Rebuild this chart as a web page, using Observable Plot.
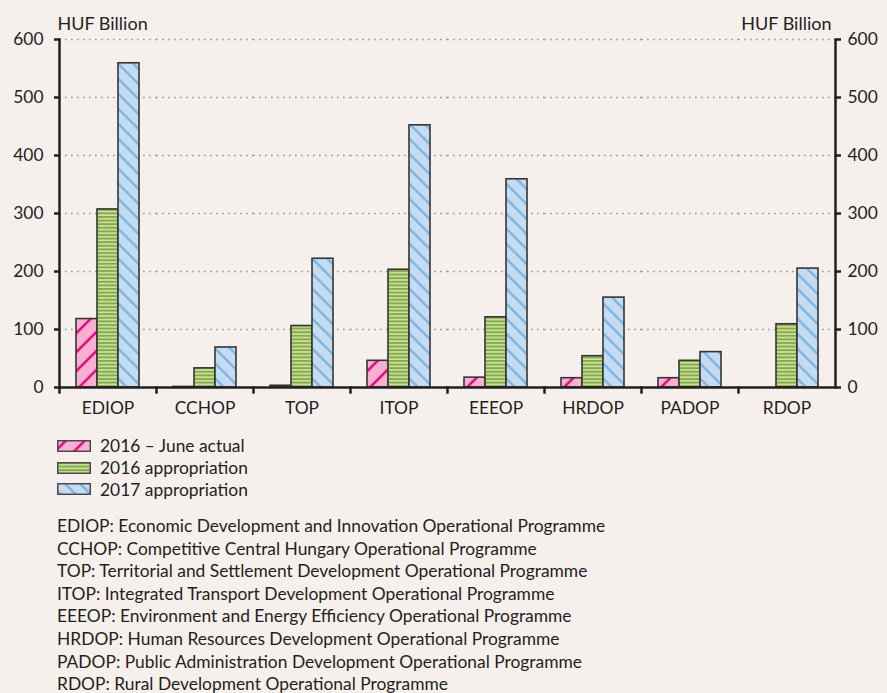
<!DOCTYPE html>
<html><head><meta charset="utf-8">
<script src="https://cdn.jsdelivr.net/npm/d3@7"></script>
<script src="https://cdn.jsdelivr.net/npm/@observablehq/plot@0.6"></script>
<style>
html,body{margin:0;padding:0;background:#f6f0ed;overflow:hidden;width:887px;height:693px;}
body{font-family:Lato,"Open Sans",sans-serif;color:#231f20;font-size:17.4px;}
#legend{margin-top:10px;}
.lrow{display:flex;align-items:center;height:21.7px;padding-left:57px;}
.lrow svg{margin-right:9px;display:block;}
#notes{margin-top:15px;padding-left:57px;line-height:22.6px;white-space:nowrap;}
</style></head><body>
<svg width="0" height="0" style="position:absolute">
<defs>
<pattern id="pat0" patternUnits="userSpaceOnUse" width="13.4" height="13.4" patternTransform="rotate(45)">
<rect width="13.4" height="13.4" fill="#f7b0d0"/>
<line x1="6.7" y1="0" x2="6.7" y2="13.4" stroke="#e3007b" stroke-width="2.4"/>
</pattern>
<pattern id="pat1" patternUnits="userSpaceOnUse" width="10" height="3.6">
<rect width="10" height="3.6" fill="#cfe2a8"/>
<rect width="10" height="2" fill="#84ac43"/>
</pattern>
<pattern id="pat2" patternUnits="userSpaceOnUse" width="10.6" height="10.6" patternTransform="rotate(-45)">
<rect width="10.6" height="10.6" fill="#c4dbf0"/>
<line x1="5.3" y1="0" x2="5.3" y2="10.6" stroke="#6aaee2" stroke-width="2"/>
</pattern>
</defs>
</svg>
<div id="chart"></div>
<div id="legend"></div>
<div id="notes"></div>
<script>
const categories = ["EDIOP","CCHOP","TOP","ITOP","EEEOP","HRDOP","PADOP","RDOP"];
const seriesNames = ["2016 – June actual","2016 appropriation","2017 appropriation"];
const actual2016 = [118,1,3,46,17,16,16,0];
const approp2016 = [307,33,106,203,121,54,46,109];
const approp2017 = [559,69,222,452,359,155,61,205];
const yTicks = [0,100,200,300,400,500,600];
const axisLabel = "HUF Billion";
const programmeNames = [
  "Economic Development and Innovation Operational Programme",
  "Competitive Central Hungary Operational Programme",
  "Territorial and Settlement Development Operational Programme",
  "Integrated Transport Development Operational Programme",
  "Environment and Energy Efficiency Operational Programme",
  "Human Resources Development Operational Programme",
  "Public Administration Development Operational Programme",
  "Rural Development Operational Programme"
];
const patternFills = ["url(#pat0)","url(#pat1)","url(#pat2)"];

const seriesValues = [actual2016, approp2016, approp2017];
const data = categories.flatMap((c, i) => seriesNames.map((s, j) => ({category: c, series: s, value: seriesValues[j][i]})));

const ink = "#231f20";
const W = 887, H = 425, mT = 39, mB = 38;
const chart = Plot.plot({
  width: W, height: H, marginLeft: 57, marginRight: 50, marginTop: mT, marginBottom: mB,
  style: {background: "transparent", fontFamily: "Lato, 'Open Sans', sans-serif", fontSize: "17.4px", color: ink},
  fx: {domain: categories, padding: 0, label: null},
  x: {domain: seriesNames, paddingInner: 0, paddingOuter: 0.75, axis: null},
  y: {domain: [0, 600], label: null},
  color: {domain: seriesNames, range: patternFills},
  marks: [
    Plot.gridY(yTicks.filter(d => d > 0), {stroke: "#9b9b9b", strokeOpacity: 1, strokeWidth: 1.7, strokeDasharray: "1.7,4.3"}),
    Plot.barY(data, {fx: "category", x: "series", y: "value", fill: "series", stroke: "#353535", strokeWidth: 1.6}),
    Plot.ruleY([0], {stroke: ink, strokeWidth: 2.5}),
    Plot.frame({anchor: "left", insetTop: H - mT - mB, insetBottom: -5, stroke: ink, strokeWidth: 2.5}),
    Plot.frame({anchor: "left", facetAnchor: "left", stroke: ink, strokeWidth: 2.5}),
    Plot.frame({anchor: "right", facetAnchor: "right", stroke: ink, strokeWidth: 2.5}),
    Plot.axisY(yTicks, {anchor: "left", tickSize: 5, tickPadding: 11, strokeWidth: 2.5, label: null, fontSize: 17.4}),
    Plot.axisY(yTicks, {anchor: "right", tickSize: 5, tickPadding: 7, strokeWidth: 2.5, label: null, fontSize: 17.4}),
    Plot.axisFx({anchor: "bottom", tickSize: 0, tickPadding: 14, label: null, fontSize: 17.4}),
    Plot.text([axisLabel], {text: d => d, frameAnchor: "top-left", textAnchor: "start", facetAnchor: "left", dx: -2, dy: -22, fontSize: 18, fill: ink}),
    Plot.text([axisLabel], {text: d => d, frameAnchor: "top-right", textAnchor: "end", facetAnchor: "right", dx: -4, dy: -22, fontSize: 18, fill: ink})
  ]
});
document.getElementById("chart").appendChild(chart);

const legend = document.getElementById("legend");
seriesNames.forEach((s, j) => {
  const row = document.createElement("div");
  row.className = "lrow";
  row.innerHTML = `<svg width="34" height="12"><rect x="0.75" y="0.75" width="32.5" height="10.5" fill="${patternFills[j]}" stroke="#4a4a4a" stroke-width="1.5"/></svg><span>${s}</span>`;
  legend.appendChild(row);
});

const notes = document.getElementById("notes");
categories.forEach((c, i) => {
  const d = document.createElement("div");
  d.textContent = `${c}: ${programmeNames[i]}`;
  notes.appendChild(d);
});
</script>
</body></html>
